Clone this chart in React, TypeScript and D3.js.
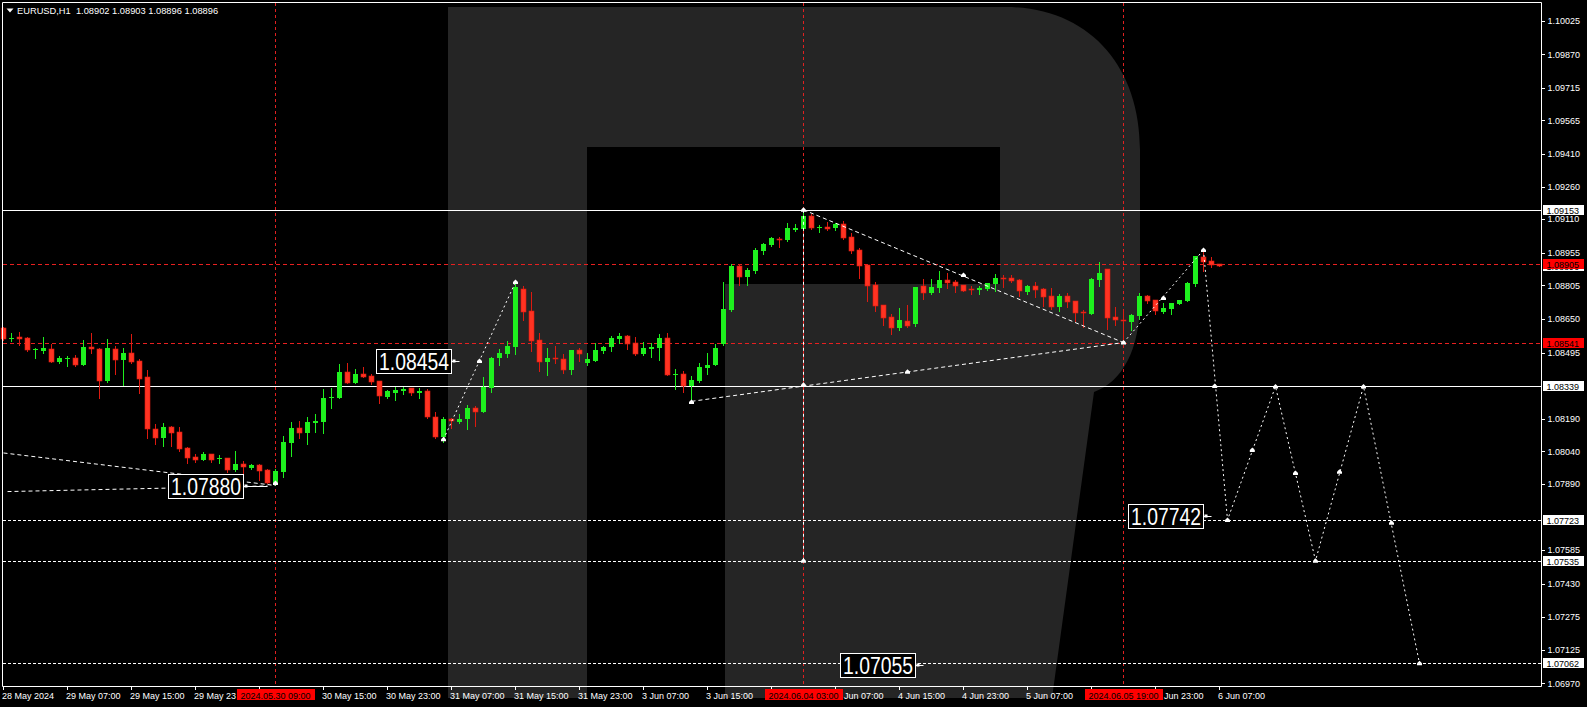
import React from 'react';
import * as d3 from 'd3';

const W = 1587;
const H = 707;

const opens = [1.08607,1.08556,1.08568,1.08562,1.08507,1.08502,1.08510,1.08450,1.08467,1.08470,1.08439,1.08521,1.08511,1.08364,1.08510,1.08461,1.08493,1.08456,1.08382,1.08143,1.08103,1.08152,1.08129,1.08055,1.08015,1.08001,1.08027,1.08003,1.08009,1.07954,1.07981,1.07963,1.07977,1.07954,1.07895,1.07946,1.08080,1.08147,1.08123,1.08169,1.08176,1.08284,1.08287,1.08405,1.08356,1.08396,1.08387,1.08364,1.08292,1.08307,1.08319,1.08330,1.08307,1.08316,1.08196,1.08107,1.08187,1.08175,1.08190,1.08239,1.08221,1.08333,1.08472,1.08490,1.08521,1.08788,1.08687,1.08553,1.08453,1.08470,1.08465,1.08416,1.08507,1.08447,1.08458,1.08502,1.08522,1.08558,1.08571,1.08541,1.08488,1.08513,1.08518,1.08561,1.08392,1.08396,1.08341,1.08365,1.08425,1.08439,1.08533,1.08691,1.08894,1.08845,1.08871,1.08963,1.08991,1.09017,1.09014,1.09060,1.09065,1.09125,1.09071,1.09074,1.09069,1.09088,1.09028,1.08968,1.08899,1.08806,1.08714,1.08660,1.08610,1.08640,1.08625,1.08802,1.08771,1.08794,1.08830,1.08820,1.08806,1.08788,1.08782,1.08790,1.08811,1.08839,1.08839,1.08830,1.08776,1.08802,1.08788,1.08756,1.08707,1.08756,1.08733,1.08682,1.08674,1.08830,1.08880,1.08659,1.08645,1.08636,1.08664,1.08756,1.08737,1.08682,1.08696,1.08719,1.08733,1.08811,1.08936,1.08917,1.08902];
const highs = [1.08614,1.08584,1.08590,1.08565,1.08518,1.08567,1.08535,1.08479,1.08478,1.08482,1.08553,1.08585,1.08515,1.08558,1.08525,1.08518,1.08581,1.08465,1.08415,1.08166,1.08170,1.08156,1.08152,1.08061,1.08027,1.08035,1.08029,1.08021,1.08010,1.08041,1.07995,1.07983,1.07981,1.07958,1.07960,1.08110,1.08175,1.08180,1.08199,1.08212,1.08327,1.08332,1.08442,1.08448,1.08419,1.08428,1.08396,1.08365,1.08322,1.08338,1.08335,1.08332,1.08330,1.08329,1.08221,1.08196,1.08192,1.08212,1.08253,1.08249,1.08382,1.08476,1.08511,1.08547,1.08827,1.08802,1.08776,1.08585,1.08516,1.08525,1.08488,1.08508,1.08516,1.08492,1.08541,1.08525,1.08571,1.08585,1.08576,1.08567,1.08544,1.08541,1.08581,1.08585,1.08421,1.08410,1.08387,1.08448,1.08493,1.08534,1.08820,1.08903,1.08903,1.08885,1.08979,1.09002,1.09029,1.09028,1.09092,1.09088,1.09153,1.09134,1.09085,1.09097,1.09092,1.09103,1.09046,1.08977,1.08900,1.08820,1.08716,1.08674,1.08702,1.08714,1.08799,1.08834,1.08834,1.08869,1.08862,1.08830,1.08808,1.08803,1.08803,1.08817,1.08857,1.08853,1.08853,1.08834,1.08806,1.08820,1.08793,1.08793,1.08765,1.08768,1.08734,1.08691,1.08839,1.08913,1.08882,1.08705,1.08691,1.08673,1.08770,1.08762,1.08739,1.08723,1.08725,1.08739,1.08820,1.08942,1.08963,1.08936,1.08903];
const lows = [1.08553,1.08550,1.08531,1.08504,1.08471,1.08491,1.08452,1.08445,1.08435,1.08433,1.08438,1.08494,1.08287,1.08361,1.08398,1.08347,1.08448,1.08310,1.08103,1.08075,1.08066,1.08066,1.08040,1.07987,1.07990,1.07999,1.07992,1.07987,1.07946,1.07951,1.07923,1.07957,1.07907,1.07892,1.07885,1.07923,1.08020,1.08103,1.08072,1.08130,1.08123,1.08241,1.08284,1.08355,1.08353,1.08382,1.08349,1.08264,1.08284,1.08276,1.08304,1.08301,1.08287,1.08195,1.08103,1.08084,1.08149,1.08169,1.08141,1.08158,1.08219,1.08315,1.08439,1.08476,1.08488,1.08645,1.08504,1.08410,1.08392,1.08448,1.08402,1.08396,1.08458,1.08439,1.08456,1.08492,1.08502,1.08539,1.08511,1.08484,1.08482,1.08475,1.08462,1.08392,1.08329,1.08315,1.08279,1.08361,1.08396,1.08438,1.08530,1.08688,1.08808,1.08808,1.08863,1.08949,1.08988,1.08982,1.09009,1.09054,1.09060,1.09066,1.09049,1.09062,1.09062,1.09020,1.08954,1.08840,1.08733,1.08688,1.08622,1.08581,1.08599,1.08614,1.08619,1.08742,1.08766,1.08776,1.08793,1.08776,1.08779,1.08767,1.08767,1.08783,1.08779,1.08797,1.08822,1.08756,1.08767,1.08751,1.08710,1.08696,1.08688,1.08707,1.08640,1.08613,1.08673,1.08802,1.08604,1.08622,1.08541,1.08599,1.08648,1.08722,1.08673,1.08677,1.08673,1.08717,1.08731,1.08802,1.08871,1.08890,1.08896];
const closes = [1.08558,1.08561,1.08559,1.08507,1.08513,1.08516,1.08453,1.08470,1.08471,1.08438,1.08521,1.08511,1.08365,1.08516,1.08462,1.08493,1.08453,1.08375,1.08141,1.08103,1.08152,1.08126,1.08052,1.08010,1.08001,1.08027,1.08001,1.08009,1.07955,1.07981,1.07969,1.07977,1.07951,1.07895,1.07947,1.08083,1.08147,1.08123,1.08175,1.08179,1.08287,1.08292,1.08405,1.08356,1.08396,1.08384,1.08361,1.08296,1.08318,1.08322,1.08329,1.08307,1.08319,1.08199,1.08107,1.08187,1.08178,1.08189,1.08239,1.08222,1.08336,1.08472,1.08493,1.08525,1.08796,1.08684,1.08550,1.08453,1.08470,1.08467,1.08416,1.08507,1.08490,1.08465,1.08507,1.08519,1.08562,1.08571,1.08533,1.08488,1.08516,1.08521,1.08562,1.08393,1.08396,1.08342,1.08369,1.08430,1.08438,1.08516,1.08696,1.08894,1.08845,1.08876,1.08968,1.08996,1.09023,1.09014,1.09069,1.09069,1.09125,1.09071,1.09075,1.09065,1.09088,1.09025,1.08963,1.08896,1.08803,1.08711,1.08656,1.08610,1.08645,1.08619,1.08797,1.08771,1.08797,1.08830,1.08817,1.08803,1.08780,1.08783,1.08793,1.08816,1.08839,1.08836,1.08826,1.08780,1.08802,1.08783,1.08751,1.08707,1.08756,1.08728,1.08679,1.08676,1.08834,1.08862,1.08656,1.08644,1.08641,1.08668,1.08756,1.08733,1.08687,1.08700,1.08723,1.08737,1.08816,1.08940,1.08913,1.08900,1.08896];

const priceTicks = [1.10025,1.09870,1.09715,1.09565,1.09410,1.09260,1.09110,1.08955,1.08805,1.08650,1.08495,1.08190,1.08040,1.07890,1.07585,1.07430,1.07275,1.07125,1.06970];

// time ticks (every 8 bars); some labels are partly covered by the red period boxes
const timeTickIdx = [0,8,16,24,32,40,48,56,64,72,80,88,96,104,112,120,128,136,144,152];
const timeTickLabels = ["28 May 2024","29 May 07:00","29 May 15:00","29 May 23","","30 May 15:00","30 May 23:00","31 May 07:00","31 May 15:00","31 May 23:00","3 Jun 07:00","3 Jun 15:00","","Jun 07:00","4 Jun 15:00","4 Jun 23:00","5 Jun 07:00","","Jun 23:00","6 Jun 07:00"];

const markerLineIdx = [34,100,140];
const markerLineLabels = ["2024.05.30 09:00","2024.06.04 03:00","2024.06.05 19:00"];

const solidLevels = [1.09153,1.08339];
const redLevels = [1.08905,1.08541];
const dashLevels = [1.07723,1.07535,1.07062];

const axisBoxValues = ["1.09153","1.08896","1.08905","1.08541","1.08339","1.07723","1.07535","1.07062"];
const axisBoxPrices = [1.09153,1.08896,1.08905,1.08541,1.08339,1.07723,1.07535,1.07062];
const axisBoxRed = [false,false,true,true,false,false,false,false];

// trend / forecast lines: [barIndex, price]
const trendLeftUpper = [[0,1.08032],[34,1.07882]];
const trendLeftLower = [[0.5,1.07854],[33,1.07880]];
const trendMidLower = [[86,1.08270],[140,1.08541]];
const trendMidUpper = [[100,1.09153],[140,1.08541]];
const zigA = [[55,1.08095],[64,1.08820]];
const zigB = [[140,1.08541],[150,1.08968]];
const forecast = [[150,1.08968],[153,1.07723],[159,1.08339],[164,1.07535],[170,1.08339],[177,1.07062]];
const verticalGuide = [[100,1.09153],[100,1.07535]];

const arrowIdx = [34,55,59.5,64,86,100,113,100,120,140,145,150,100,151.4,153,156.1,159,161.5,164,167,170,173.5,177];
const arrowPrices = [1.07894,1.08095,1.08456,1.08820,1.08267,1.08346,1.08406,1.09153,1.08853,1.08541,1.08747,1.08968,1.07535,1.08341,1.07723,1.08046,1.08339,1.07940,1.07535,1.07945,1.08339,1.07710,1.07062];

const labelTexts = ["1.07880","1.08454","1.07742","1.07055"];
const labelIdx = [33,57,151,115];
const labelPrices = [1.07880,1.08454,1.07742,1.07055];

const titleText = "EURUSD,H1  1.08902 1.08903 1.08896 1.08896";

const FONT = "'Liberation Sans', Arial, sans-serif";
const BIG = "'Liberation Sans Narrow', 'Liberation Sans', Arial, sans-serif";
const GREEN = '#1ef01e';
const RED = '#ff3322';
const RED_EDGE = '#dd1a10';
const GRAY = '#252525';

const L = 3, R = 1541, T = 3, B = 686;

export default function App() {
  const x = d3.scaleLinear().domain([0, 1]).range([3.5, 11.5]);
  const y = d3.scaleLinear().domain([1.0697, 1.10025]).range([683.3, 20.7]);
  const py = (p: number) => Math.round(y(p)) + 0.5;
  const line = d3.line<number[]>().x(d => x(d[0])).y(d => y(d[1]));

  const labelGap = [25, 9, 9, 9];
  const boxW = 75;
  const mBoxW = 78;
  const mBoxLeft = (i: number) => Math.round(x(i)) - mBoxW / 2;

  const tickTextX = (i: number) => {
    const tx = x(i) - 1.5;
    for (const m of markerLineIdx) {
      const l = mBoxLeft(m), r = l + mBoxW;
      if (tx >= l && tx <= r) return r + 1;
    }
    return tx;
  };

  return (
    <svg width={W} height={H} style={{ position: 'absolute', left: 0, top: 0, background: '#000' }}>
      <rect x={0} y={0} width={W} height={H} fill="#000" />
      {/* watermark R */}
      <rect x={448} y={7} width={139} height={691} fill={GRAY} />
      <path d="M587,7 H1005 C1088,7 1140,65 1140,150 V300 C1140,350 1122,382 1094,392 L1052,698 H725 V284 H1000 V147 H587 Z" fill={GRAY} />

      {/* vertical red period lines */}
      {markerLineIdx.map((i, k) => (
        <line key={'v' + k} x1={x(i)} x2={x(i)} y1={T} y2={B} stroke="#e02020" strokeDasharray="3,3" />
      ))}
      {/* horizontal levels */}
      {solidLevels.map((p, k) => (
        <line key={'s' + k} x1={L} x2={R} y1={py(p)} y2={py(p)} stroke="#fff" />
      ))}
      {redLevels.map((p, k) => (
        <line key={'r' + k} x1={L} x2={R} y1={py(p)} y2={py(p)} stroke="#e82020" strokeDasharray="4,3" />
      ))}
      {dashLevels.map((p, k) => (
        <line key={'d' + k} x1={L} x2={R} y1={py(p)} y2={py(p)} stroke="#fff" strokeDasharray="3,2" />
      ))}

      {/* candles */}
      {opens.map((o, i) => {
        const c = closes[i];
        const up = c >= o;
        const cx = x(i);
        const top = Math.round(y(Math.max(o, c)));
        const bot = Math.round(y(Math.min(o, c)));
        const h = Math.max(1, bot - top);
        const col = up ? GREEN : RED;
        return (
          <g key={'c' + i}>
            <line x1={cx} x2={cx} y1={Math.round(y(highs[i]))} y2={Math.round(y(lows[i])) + 1} stroke={up ? GREEN : RED_EDGE} />
            <rect x={cx - 2.5} y={top} width={5} height={h} fill={col} stroke={up ? 'none' : RED_EDGE} strokeWidth={up ? 0 : 0.6} />
          </g>
        );
      })}

      {/* trend lines */}
      {[trendLeftUpper, trendLeftLower, trendMidLower, trendMidUpper].map((d, k) => (
        <path key={'t' + k} d={line(d as any) || ''} fill="none" stroke="#fff" strokeDasharray="4,3" />
      ))}
      <path d={line(verticalGuide as any) || ''} fill="none" stroke="#fff" strokeDasharray="3,3" />
      {[zigA, zigB, forecast].map((d, k) => (
        <path key={'z' + k} d={line(d as any) || ''} fill="none" stroke="#fff" strokeDasharray="2,3" />
      ))}
      {arrowIdx.map((i, k) => {
        const ax = x(i), ay = y(arrowPrices[k]);
        return (
          <path key={'a' + k} d={`M${ax - 2.5},${ay + 2} L${ax - 2.5},${ay} L${ax},${ay - 2.5} L${ax + 2.5},${ay} L${ax + 2.5},${ay + 2} Z`} fill="#fff" />
        );
      })}

      {/* big labels */}
      {labelTexts.map((t, k) => {
        const ex = x(labelIdx[k]);
        const ey = Math.round(y(labelPrices[k])) + 0.5;
        const right = Math.round(ex - labelGap[k]) + 0.5;
        const left = right - boxW;
        return (
          <g key={'l' + k}>
            <line x1={right} x2={ex} y1={ey} y2={ey} stroke="#fff" />
            <rect x={right + 1} y={ey - 2} width={3} height={3} fill="#fff" />
            <rect x={left} y={ey - 12} width={boxW} height={24} fill="#000" stroke="#fff" />
            <text x={left + boxW / 2} y={ey + 8.5} fill="#fff" fontFamily={BIG} fontSize={23.5} textAnchor="middle" textLength={70} lengthAdjust="spacingAndGlyphs">{t}</text>
          </g>
        );
      })}

      {/* frame */}
      <line x1={L - 0.5} x2={R + 0.5} y1={T - 0.5} y2={T - 0.5} stroke="#fff" />
      <line x1={L - 0.5} x2={L - 0.5} y1={T - 0.5} y2={B + 0.5} stroke="#fff" />
      <line x1={R + 0.5} x2={R + 0.5} y1={T - 0.5} y2={B + 0.5} stroke="#fff" />
      <line x1={L - 0.5} x2={R + 0.5} y1={B + 0.5} y2={B + 0.5} stroke="#fff" />

      {/* price axis */}
      {priceTicks.map((p, k) => (
        <g key={'p' + k}>
          <line x1={R + 1} x2={R + 4} y1={py(p)} y2={py(p)} stroke="#fff" />
          <text x={R + 6.5} y={y(p) + 3.3} fill="#fff" fontFamily={FONT} fontSize={9}>{p.toFixed(5)}</text>
        </g>
      ))}
      {axisBoxValues.map((t, k) => {
        const cy = y(axisBoxPrices[k]);
        const red = axisBoxRed[k];
        return (
          <g key={'b' + k}>
            <rect x={R + 2} y={Math.round(cy) - 5} width={41} height={10} fill={red ? '#ff0000' : '#fff'} />
            <text x={R + 5.5} y={Math.round(cy) + 3.5} fill="#000" fontFamily={FONT} fontSize={9}>{t}</text>
          </g>
        );
      })}

      {/* time axis */}
      {timeTickIdx.map((i, k) => (
        <g key={'x' + k}>
          <line x1={x(i)} x2={x(i)} y1={B + 1} y2={B + 4} stroke="#fff" />
          {timeTickLabels[k] ? (
            <text x={tickTextX(i)} y={B + 12.5} fill="#fff" fontFamily={FONT} fontSize={9}>{timeTickLabels[k]}</text>
          ) : null}
        </g>
      ))}
      {markerLineIdx.map((i, k) => (
        <g key={'m' + k}>
          <rect x={mBoxLeft(i)} y={B + 3} width={mBoxW} height={11} fill="#ff0000" />
          <text x={x(i)} y={B + 12.5} fill="#000" fontFamily={FONT} fontSize={9} textAnchor="middle">{markerLineLabels[k]}</text>
        </g>
      ))}

      {/* title */}
      <path d="M6.5,8.5 L13.5,8.5 L10,12.5 Z" fill="#fff" />
      <text x={17} y={14} fill="#fff" fontFamily={FONT} fontSize={9.3} style={{ whiteSpace: 'pre' }}>{titleText}</text>
    </svg>
  );
}
